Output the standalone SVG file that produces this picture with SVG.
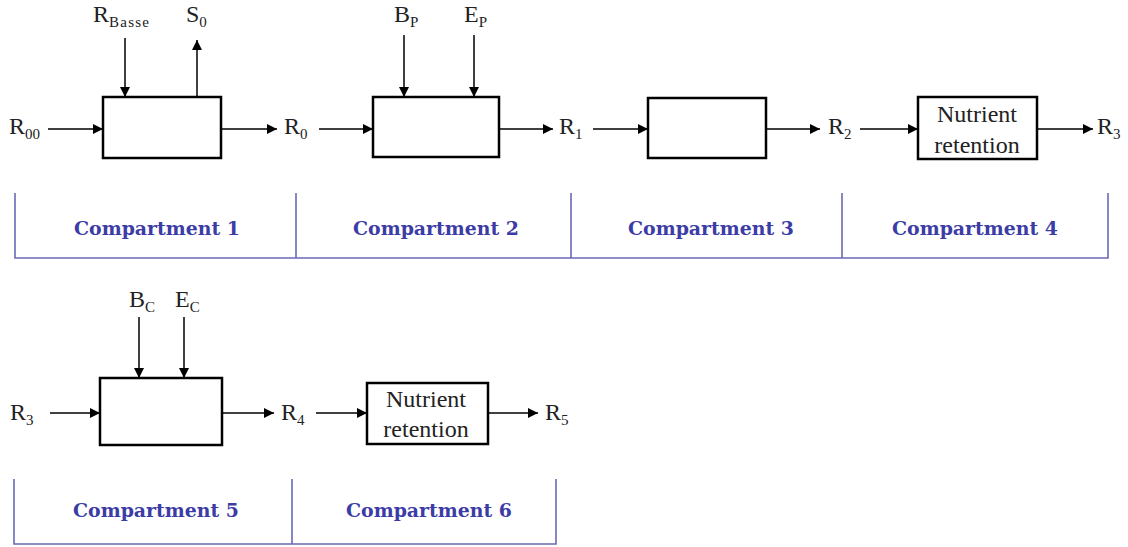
<svg xmlns="http://www.w3.org/2000/svg" width="1128" height="547" viewBox="0 0 1128 547">
<defs>
<marker id="ah" viewBox="0 0 10 10" refX="10" refY="5" markerWidth="10" markerHeight="10" markerUnits="userSpaceOnUse" orient="auto">
<path d="M0,0 L10,5 L0,10 z" fill="#000"/>
</marker>
</defs>
<style>
.box{fill:#fff;stroke:#000;stroke-width:2.5}
.con line{stroke:#000;stroke-width:1.5;marker-end:url(#ah)}
.lbl{font-family:'Liberation Serif',Tinos,'Times New Roman',Times,'DejaVu Serif';font-size:24px;fill:#222}
.sub{font-size:15px}
.cmp{font-family:'DejaVu Serif','Liberation Serif',serif;font-weight:bold;font-size:19px;fill:#3c3ca6}
.sep{stroke:#6a6ab8;stroke-width:1.6;fill:none}
</style>
<rect width="1128" height="547" fill="#fff"/>

<g id="connectors" class="con">
<line x1="48" y1="129" x2="103" y2="129"/>
<line x1="125" y1="38" x2="125" y2="97"/>
<line x1="197" y1="97" x2="197" y2="40"/>
<line x1="221" y1="129" x2="277" y2="129"/>
<line x1="319" y1="129" x2="373" y2="129"/>
<line x1="404" y1="35" x2="404" y2="97"/>
<line x1="474" y1="35" x2="474" y2="97"/>
<line x1="499" y1="129" x2="553" y2="129"/>
<line x1="593" y1="129" x2="648" y2="129"/>
<line x1="766" y1="129" x2="820" y2="129"/>
<line x1="860" y1="129" x2="918" y2="129"/>
<line x1="1037" y1="129" x2="1093" y2="129"/>
<line x1="50" y1="413" x2="100" y2="413"/>
<line x1="139" y1="317" x2="139" y2="378"/>
<line x1="184" y1="317" x2="184" y2="378"/>
<line x1="222" y1="413" x2="274" y2="413"/>
<line x1="316" y1="413" x2="367" y2="413"/>
<line x1="488" y1="413" x2="538" y2="413"/>
</g>

<g id="node-box1"><rect class="box" x="103" y="97" width="118" height="61"/></g>
<g id="node-box2"><rect class="box" x="373" y="97" width="126" height="60"/></g>
<g id="node-box3"><rect class="box" x="648" y="98" width="118" height="60"/></g>
<g id="node-box4"><rect class="box" x="918" y="97" width="119" height="62"/>
<text class="lbl" x="977" y="122" text-anchor="middle">Nutrient</text>
<text class="lbl" x="977" y="153" text-anchor="middle">retention</text></g>
<g id="node-box5"><rect class="box" x="100" y="378" width="122" height="67"/></g>
<g id="node-box6"><rect class="box" x="367" y="383" width="121" height="61"/>
<text class="lbl" x="426" y="407" text-anchor="middle">Nutrient</text>
<text class="lbl" x="426" y="437" text-anchor="middle">retention</text></g>

<g id="labels">
<text class="lbl" x="9" y="134">R<tspan class="sub" dy="5">00</tspan></text>
<text class="lbl" x="93" y="22">R<tspan class="sub" dy="5" textLength="40">Basse</tspan></text>
<text class="lbl" x="186" y="22">S<tspan class="sub" dy="5">0</tspan></text>
<text class="lbl" x="284" y="134">R<tspan class="sub" dy="5">0</tspan></text>
<text class="lbl" x="394" y="22">B<tspan class="sub" dy="5">P</tspan></text>
<text class="lbl" x="464" y="22">E<tspan class="sub" dy="5">P</tspan></text>
<text class="lbl" x="559" y="134">R<tspan class="sub" dy="5">1</tspan></text>
<text class="lbl" x="828" y="134">R<tspan class="sub" dy="5">2</tspan></text>
<text class="lbl" x="1097" y="134">R<tspan class="sub" dy="5">3</tspan></text>
<text class="lbl" x="10" y="420">R<tspan class="sub" dy="5">3</tspan></text>
<text class="lbl" x="129" y="307">B<tspan class="sub" dy="5">C</tspan></text>
<text class="lbl" x="175" y="307">E<tspan class="sub" dy="5">C</tspan></text>
<text class="lbl" x="281" y="420">R<tspan class="sub" dy="5">4</tspan></text>
<text class="lbl" x="545" y="420">R<tspan class="sub" dy="5">5</tspan></text>
</g>

<g id="compartments-row1">
<path class="sep" d="M15,193 V258 H1108 V193 M296,193 V258 M571,193 V258 M842,193 V258"/>
<text class="cmp" x="157" y="235" text-anchor="middle" textLength="166" lengthAdjust="spacingAndGlyphs">Compartment 1</text>
<text class="cmp" x="436" y="235" text-anchor="middle" textLength="166" lengthAdjust="spacingAndGlyphs">Compartment 2</text>
<text class="cmp" x="711" y="235" text-anchor="middle" textLength="166" lengthAdjust="spacingAndGlyphs">Compartment 3</text>
<text class="cmp" x="975" y="235" text-anchor="middle" textLength="166" lengthAdjust="spacingAndGlyphs">Compartment 4</text>
</g>
<g id="compartments-row2">
<path class="sep" d="M14,479 V544 H556 V479 M292,479 V544"/>
<text class="cmp" x="156" y="517" text-anchor="middle" textLength="166" lengthAdjust="spacingAndGlyphs">Compartment 5</text>
<text class="cmp" x="429" y="517" text-anchor="middle" textLength="166" lengthAdjust="spacingAndGlyphs">Compartment 6</text>
</g>
</svg>
